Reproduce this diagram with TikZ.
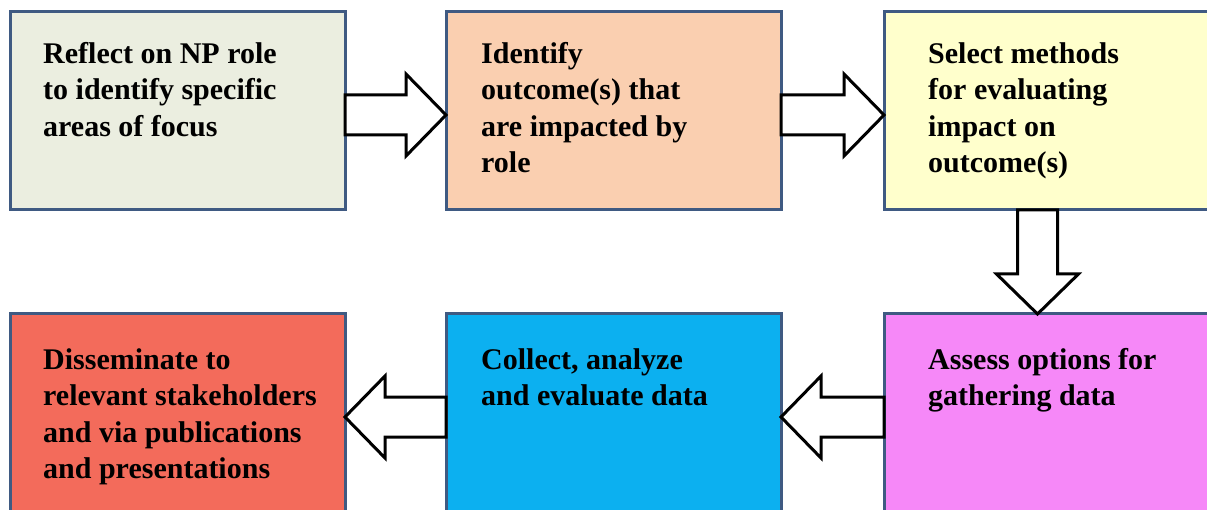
\documentclass[tikz,border=0pt]{standalone}
\usepackage{fontspec}
\setmainfont{Liberation Serif}
\usepackage{tikz}
\usetikzlibrary{calc}
\usepackage{color}
\definecolor{edgeblue}{RGB}{63,90,130}
\definecolor{reflectfill}{RGB}{235,238,224}
\definecolor{identifyfill}{RGB}{250,207,176}
\definecolor{selectfill}{RGB}{255,255,204}
\definecolor{disseminatefill}{RGB}{243,107,91}
\definecolor{collectfill}{RGB}{12,176,240}
\definecolor{assessfill}{RGB}{246,136,248}
% block arrow from #1 (tail) to #2 (tip)
\newcommand{\fatarrow}[2]{%
  \coordinate (neck) at ($(#2)!40pt!(#1)$);
  \draw[blockarrow] ($(#1)!20pt!90:(#2)$) -- ($(neck)!20pt!-90:(#1)$) -- ($(neck)!41pt!-90:(#1)$) -- (#2)
    -- ($(neck)!41pt!90:(#1)$) -- ($(neck)!20pt!90:(#1)$) -- ($(#1)!20pt!-90:(#2)$) -- cycle;}

\begin{document}
\begin{tikzpicture}[x=1pt,y=-1pt,
    stepbox/.style={draw=edgeblue,line width=3pt,minimum width=335pt,minimum height=198pt,inner sep=0pt,outer sep=0pt},
    steptext/.style={anchor=north west,align=left,inner sep=0pt,xshift=33pt,yshift=-30pt,font=\fontsize{30}{36.5}\selectfont\bfseries},
    blockarrow/.style={draw=black,fill=white,line width=3pt,line join=miter}]
	\useasboundingbox (0,0) rectangle (1207,510);
	\clip (0,0) rectangle (1207,510);
	\node[stepbox,fill=reflectfill,label={[steptext]north west:{Reflect on NP role\\to identify specific\\areas of focus}}] (reflect) at (177.5,111) {};
	\node[stepbox,fill=identifyfill,label={[steptext,xshift=2pt]north west:{Identify\\outcome(s) that\\are impacted by\\role}}] (identify) at (613.5,111) {};
	\node[stepbox,fill=selectfill,label={[steptext,xshift=11pt]north west:{Select methods\\for evaluating\\impact on\\outcome(s)}}] (select) at (1051.5,111) {};
	\node[stepbox,fill=disseminatefill,label={[steptext,yshift=-4pt]north west:{Disseminate to\\relevant stakeholders\\and via publications\\and presentations}}] (disseminate) at (177.5,413) {};
	\node[stepbox,fill=collectfill,label={[steptext,xshift=2pt,yshift=-4pt]north west:{Collect, analyze\\and evaluate data}}] (collect) at (613.5,413) {};
	\node[stepbox,fill=assessfill,label={[steptext,xshift=11pt,yshift=-4pt]north west:{Assess options for\\gathering data}}] (assess) at (1051.5,413) {};
	\coordinate (t1) at ($(reflect.east)+(0,4)$);
	\coordinate (h1) at ($(identify.west)+(0,4)$);
	\coordinate (t2) at ($(identify.east)+(0,4)$);
	\coordinate (h2) at ($(select.west)+(0,4)$);
	\coordinate (t3) at ($(select.south)+(-14,0)$);
	\coordinate (h3) at ($(assess.north)+(-14,0)$);
	\coordinate (t4) at ($(assess.west)+(0,4)$);
	\coordinate (h4) at ($(collect.east)+(0,4)$);
	\coordinate (t5) at ($(collect.west)+(0,4)$);
	\coordinate (h5) at ($(disseminate.east)+(0,4)$);
	\fatarrow{t1}{h1}
	\fatarrow{t2}{h2}
	\fatarrow{t3}{h3}
	\fatarrow{t4}{h4}
	\fatarrow{t5}{h5}
\end{tikzpicture}
\end{document}
